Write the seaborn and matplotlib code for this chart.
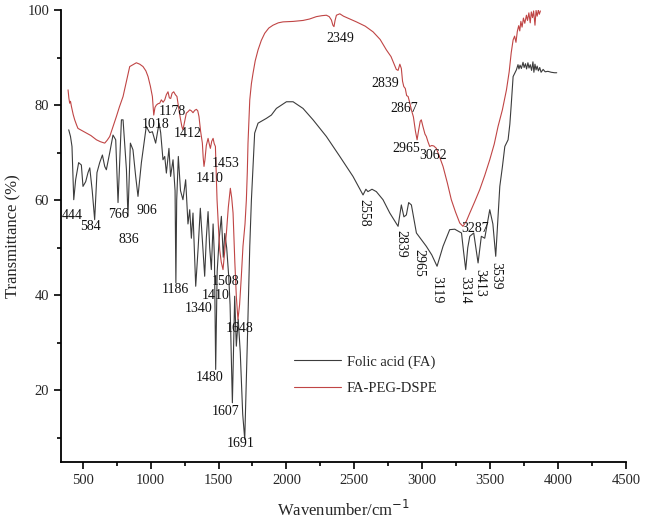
import matplotlib
matplotlib.use("Agg")
import matplotlib.pyplot as plt
import seaborn as sns
import pandas as pd
from matplotlib.ticker import MultipleLocator

# Folic acid (FA)
fa_wn = [397, 410, 421, 434, 448, 470, 490, 502, 522, 539, 552, 570, 588, 605, 625, 645, 662, 674,
         699, 723, 743, 760, 785, 797, 822, 833, 851, 870, 890, 907, 932, 968, 993, 1013, 1037,
         1062, 1074, 1091, 1104, 1116, 1135, 1147, 1165, 1180, 1186, 1192, 1204, 1220, 1238, 1258,
         1275, 1288, 1300, 1312, 1332, 1350, 1366, 1385, 1398, 1410, 1423, 1435, 1447, 1460, 1470,
         1479, 1490, 1505, 1521, 1535, 1546, 1560, 1575, 1585, 1602, 1612, 1619, 1631, 1645, 1660,
         1678, 1693, 1712, 1730, 1742, 1766, 1791, 1852, 1889, 1926, 2000, 2049, 2122, 2196, 2294,
         2393, 2490, 2564, 2585, 2600, 2630, 2662, 2711, 2761, 2822, 2846, 2865, 2883, 2900, 2920,
         2957, 2993, 3030, 3070, 3109, 3153, 3202, 3239, 3289, 3305, 3320, 3335, 3350, 3379, 3411,
         3435, 3460, 3497, 3520, 3541, 3571, 3590, 3608, 3620, 3632, 3645, 3655, 3669, 3693, 3705,
         3712, 3720, 3730, 3742, 3750, 3760, 3768, 3778, 3786, 3795, 3805, 3815, 3822, 3830, 3838,
         3846, 3855, 3865, 3875, 3890, 3905, 3925, 3950, 3975, 3990]
fa_t = [74.8, 73.4, 71.3, 60.1, 64.3, 67.9, 67.4, 62.9, 63.9, 65.8, 66.8, 62.0, 55.9, 65.8, 67.9,
        69.5, 67.1, 66.4, 70.0, 73.7, 72.7, 59.5, 76.9, 76.9, 66.4, 56.6, 72.0, 70.6, 65.0, 60.8,
        67.9, 75.5, 74.2, 74.4, 72.0, 76.2, 74.2, 68.5, 69.2, 65.7, 70.9, 65.0, 68.5, 62.0, 42.6,
        60.0, 69.2, 62.0, 60.1, 64.3, 55.0, 58.0, 52.0, 57.3, 41.9, 50.0, 58.3, 50.0, 44.0, 52.0,
        57.6, 50.0, 45.4, 55.0, 48.0, 24.4, 45.0, 52.0, 56.6, 48.0, 53.0, 50.0, 44.0, 38.0, 17.4,
        30.0, 39.8, 29.3, 35.0, 28.0, 15.0, 9.7, 30.0, 50.3, 60.0, 74.1, 76.2, 77.2, 77.9, 79.3,
        80.7, 80.7, 79.3, 76.9, 73.4, 69.2, 65.0, 61.1, 62.3, 61.8, 62.3, 61.8, 60.1, 57.3, 54.5,
        59.0, 56.5, 56.9, 59.5, 59.0, 53.1, 51.7, 50.3, 48.5, 46.1, 50.3, 53.8, 53.9, 53.1, 49.0,
        45.4, 50.0, 52.4, 53.1, 46.8, 52.4, 52.0, 58.0, 55.0, 48.2, 62.9, 67.0, 71.3, 72.0, 72.7,
        76.0, 80.0, 86.0, 87.4, 88.5, 87.6, 88.4, 87.7, 89.0, 87.9, 88.7, 87.6, 88.9, 87.8, 88.5,
        87.3, 89.1, 86.9, 88.6, 87.4, 88.2, 87.2, 87.9, 86.9, 87.5, 87.0, 87.1, 86.9, 86.8, 86.8]

# FA-PEG-DSPE
peg_wn = [392, 398, 404, 410, 417, 430, 441, 455, 465, 490, 527, 560, 601, 630, 662, 680, 699, 720,
          748, 770, 797, 820, 846, 870, 895, 920, 944, 965, 981, 998, 1013, 1023, 1032, 1042, 1055,
          1067, 1079, 1092, 1104, 1116, 1128, 1138, 1148, 1158, 1170, 1182, 1194, 1206, 1219, 1230,
          1238, 1250, 1263, 1275, 1288, 1300, 1312, 1325, 1337, 1347, 1356, 1368, 1381, 1387, 1393,
          1400, 1410, 1423, 1432, 1440, 1450, 1460, 1468, 1477, 1483, 1489, 1500, 1509, 1520, 1533,
          1545, 1558, 1572, 1587, 1597, 1607, 1620, 1631, 1643, 1655, 1668, 1680, 1695, 1705, 1712,
          1717, 1724, 1730, 1742, 1754, 1770, 1791, 1815, 1840, 1870, 1901, 1940, 1975, 2050, 2122,
          2170, 2220, 2260, 2294, 2315, 2331, 2342, 2350, 2358, 2368, 2393, 2420, 2460, 2515, 2580,
          2638, 2690, 2736, 2770, 2809, 2822, 2835, 2846, 2855, 2864, 2875, 2885, 2896, 2908, 2920,
          2935, 2950, 2962, 2972, 2985, 2993, 3005, 3020, 3030, 3042, 3055, 3070, 3085, 3104, 3125,
          3153, 3185, 3214, 3245, 3276, 3300, 3325, 3350, 3385, 3423, 3460, 3497, 3530, 3558, 3590,
          3620, 3640, 3655, 3669, 3680, 3690, 3700, 3710, 3718, 3726, 3735, 3745, 3755, 3767, 3775,
          3785, 3795, 3803, 3812, 3820, 3830, 3838, 3846, 3855, 3862, 3870]
peg_t = [83.2, 81.5, 80.4, 80.8, 79.7, 78.0, 76.9, 75.8, 75.1, 74.7, 74.1, 73.6, 72.7, 72.3, 72.0,
         72.6, 73.4, 75.2, 77.6, 79.6, 81.8, 84.8, 88.1, 88.5, 88.9, 88.6, 88.1, 87.2, 86.0, 84.0,
         81.8, 77.9, 79.5, 80.0, 80.3, 80.4, 81.1, 80.6, 81.1, 82.2, 82.8, 81.5, 81.4, 82.5, 82.8,
         82.2, 81.8, 79.5, 77.2, 75.5, 74.8, 76.5, 78.3, 78.6, 79.0, 78.8, 78.4, 78.9, 79.1, 78.8,
         77.6, 74.5, 72.0, 69.0, 67.1, 68.5, 71.5, 73.0, 71.8, 70.9, 72.4, 73.0, 71.9, 71.3, 66.0,
         60.1, 54.0, 49.5, 47.0, 45.4, 49.0, 53.1, 58.5, 62.5, 60.5, 57.3, 47.0, 39.8, 34.9, 38.0,
         44.0, 50.3, 55.0, 60.1, 66.0, 72.0, 77.0, 81.1, 84.5, 86.7, 89.3, 91.6, 93.6, 95.1, 96.2,
         96.8, 97.3, 97.5, 97.6, 97.8, 98.1, 98.6, 98.8, 98.9, 98.6, 97.9, 96.8, 96.5, 97.8, 98.9,
         99.2, 98.7, 98.2, 97.5, 96.6, 95.4, 93.8, 91.6, 90.2, 87.5, 87.3, 88.6, 87.7, 85.0, 83.9,
         83.5, 82.0, 81.8, 80.5, 79.0, 77.5, 74.5, 72.7, 74.5, 76.6, 76.9, 75.5, 73.9, 73.4, 72.3,
         71.3, 71.5, 71.4, 70.9, 69.3, 67.1, 63.6, 60.1, 57.5, 55.2, 54.5, 55.6, 57.3, 59.6, 62.2,
         65.2, 68.5, 71.8, 75.5, 79.0, 83.2, 87.0, 91.0, 93.7, 94.5, 93.2, 95.5, 96.7, 95.6, 97.6,
         96.4, 98.3, 97.2, 98.9, 97.8, 99.4, 97.3, 99.6, 98.4, 99.8, 96.8, 99.9, 98.7, 100.0, 99.1,
         99.8]

series_names = ["Folic acid (FA)", "FA-PEG-DSPE"]

# peak labels: text, x, y, rotation
peak_labels = [
    ("444", 423, 56.8, 0), ("584", 557, 54.5, 0), ("766", 760, 56.9, 0), ("836", 842, 51.7, 0),
    ("906", 975, 57.8, 0), ("1018", 1036, 75.9, 0), ("1178", 1160, 78.7, 0),
    ("1412", 1272, 74.1, 0), ("1453", 1550, 67.7, 0), ("1410", 1435, 64.6, 0),
    ("1186", 1181, 41.2, 0), ("1340", 1355, 37.2, 0), ("1410", 1480, 39.9, 0),
    ("1508", 1548, 42.8, 0), ("1648", 1653, 33.0, 0), ("1480", 1431, 22.8, 0),
    ("1607", 1555, 15.6, 0), ("1691", 1662, 8.8, 0),
    ("2349", 2398, 93.9, 0), ("2839", 2726, 84.6, 0), ("2867", 2864, 79.3, 0),
    ("2965", 2882, 70.9, 0), ("3062", 3079, 69.4, 0), ("3287", 3390, 54.0, 0),
    ("2558", 2570, 57.3, -90), ("2839", 2840, 50.8, -90), ("2965", 2975, 46.8, -90),
    ("3119", 3108, 41.2, -90), ("3314", 3313, 41.2, -90), ("3413", 3427, 42.6, -90),
    ("3539", 3540, 44.0, -90),
]

df = pd.concat([
    pd.DataFrame({"Wavenumber": fa_wn, "Transmittance": fa_t, "Sample": series_names[0]}),
    pd.DataFrame({"Wavenumber": peg_wn, "Transmittance": peg_t, "Sample": series_names[1]}),
])

sns.set_style("ticks")
plt.rcParams["font.family"] = ["Liberation Serif", "DejaVu Serif"]

fig = plt.figure(figsize=(6.46, 5.23), dpi=100)
ax = fig.add_axes([0.0944, 0.1172, 0.8746, 0.8637])

palette = {series_names[0]: "#3c3c3c", series_names[1]: "#c04545"}
sns.lineplot(data=df, x="Wavenumber", y="Transmittance", hue="Sample", palette=palette,
             estimator=None, sort=False, lw=0.8, ax=ax)

for txt, x, y, rot in peak_labels:
    ax.text(x, y, txt, ha="center", va="center", rotation=rot, fontsize=10, color="#111111")

ax.set_xlim(340, 4500)
ax.set_ylim(5, 100)
ax.xaxis.set_major_locator(MultipleLocator(500))
ax.xaxis.set_minor_locator(MultipleLocator(250))
ax.yaxis.set_major_locator(MultipleLocator(20))
ax.yaxis.set_minor_locator(MultipleLocator(10))
ax.set_xticks(range(500, 4501, 500))
ax.tick_params(which="major", direction="out", length=5, width=1.2, labelsize=10.5, color="black")
ax.tick_params(which="minor", direction="out", length=3, width=1.2, color="black")
sns.despine(ax=ax)
for s in ["left", "bottom"]:
    ax.spines[s].set_linewidth(1.3)
    ax.spines[s].set_color("black")

ax.set_xlabel("Wavenumber/cm$^{-1}$", fontsize=12, labelpad=10)
ax.set_ylabel("Transmittance (%)", fontsize=12, labelpad=4)

ax.legend(title=None, frameon=False, loc="upper left", bbox_to_anchor=(0.39, 0.265),
          handlelength=3.2, handletextpad=0.4, labelspacing=0.9, fontsize=10.5)

fig.savefig("out.png", dpi=100)
